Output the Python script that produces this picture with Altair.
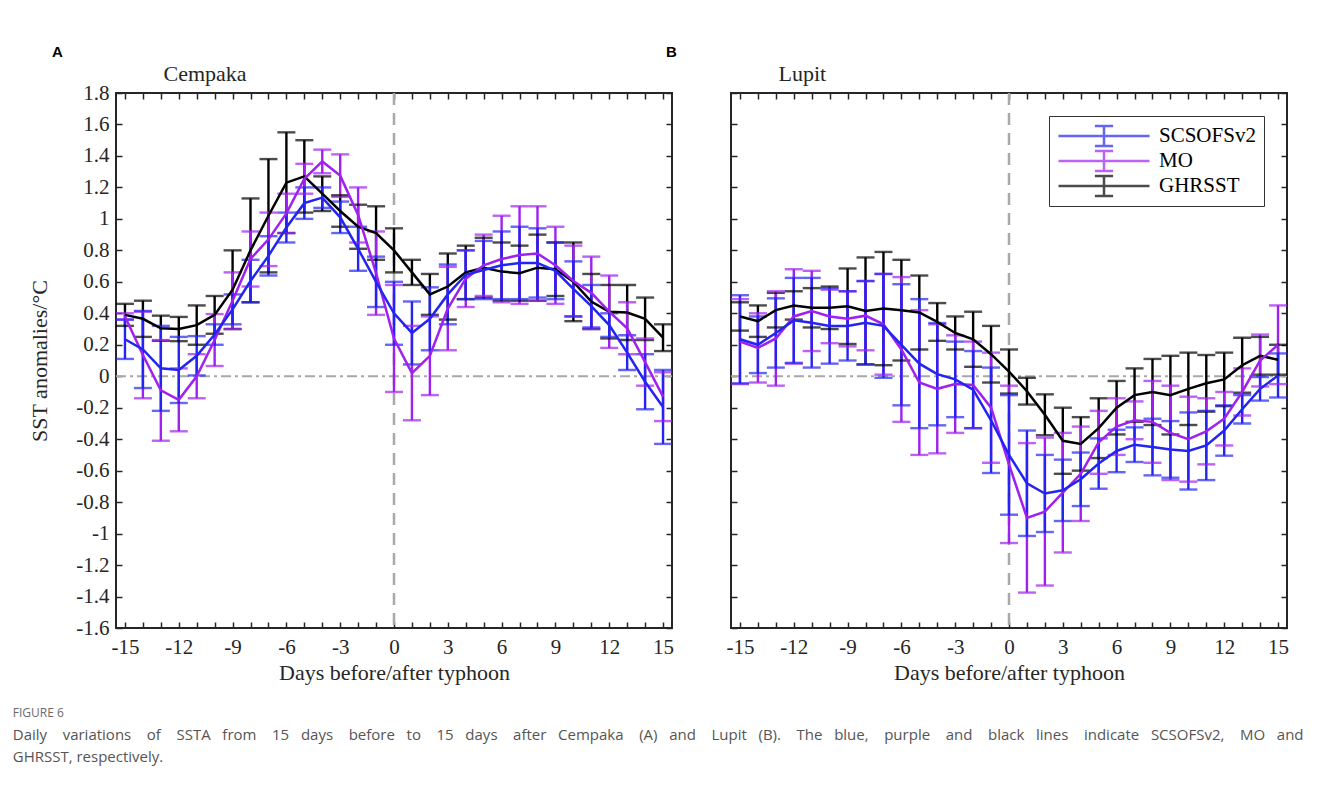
import altair as alt
import pandas as pd

# ---------------- data ----------------
days = list(range(-15, 16))
series_names = ["SCSOFSv2", "MO", "GHRSST"]
series_colors = ["#2424F2", "#A020F0", "#000000"]
y_ticks = [-1.6, -1.4, -1.2, -1.0, -0.8, -0.6, -0.4, -0.2, 0.0, 0.2, 0.4, 0.6, 0.8, 1.0, 1.2, 1.4, 1.6, 1.8]

# Panel A - Cempaka
cem_scs = [0.235, 0.17, 0.05, 0.04, 0.13, 0.265, 0.425, 0.605, 0.765, 0.945, 1.10, 1.135, 1.01, 0.81, 0.60,
           0.40, 0.275, 0.365, 0.52, 0.645, 0.675, 0.705, 0.72, 0.72, 0.67, 0.555, 0.445, 0.325, 0.15, -0.035, -0.195]
cem_scs_err = [0.125, 0.245, 0.27, 0.21, 0.125, 0.065, 0.095, 0.135, 0.125, 0.095, 0.10, 0.065, 0.10, 0.14, 0.16,
               0.20, 0.20, 0.20, 0.19, 0.155, 0.185, 0.215, 0.23, 0.22, 0.18, 0.175, 0.135, 0.075, 0.11, 0.175, 0.235]
cem_mo = [0.38, 0.135, -0.09, -0.15, 0.0, 0.23, 0.48, 0.745, 0.87, 1.035, 1.255, 1.365, 1.275, 1.025, 0.655,
          0.24, 0.02, 0.13, 0.43, 0.62, 0.705, 0.745, 0.77, 0.78, 0.705, 0.605, 0.53, 0.41, 0.305, 0.09, -0.13]
cem_mo_err = [0.02, 0.275, 0.32, 0.2, 0.14, 0.165, 0.18, 0.175, 0.17, 0.125, 0.095, 0.075, 0.135, 0.175, 0.265,
              0.34, 0.30, 0.25, 0.265, 0.18, 0.195, 0.275, 0.31, 0.30, 0.245, 0.225, 0.23, 0.23, 0.165, 0.15, 0.155]
cem_gh = [0.39, 0.365, 0.305, 0.30, 0.325, 0.39, 0.55, 0.80, 1.02, 1.23, 1.27, 1.16, 1.05, 0.95, 0.91,
          0.80, 0.66, 0.52, 0.57, 0.66, 0.69, 0.665, 0.655, 0.69, 0.68, 0.60, 0.475, 0.41, 0.405, 0.365, 0.245]
cem_gh_err = [0.07, 0.115, 0.08, 0.077, 0.125, 0.12, 0.25, 0.33, 0.36, 0.32, 0.23, 0.11, 0.10, 0.14, 0.17,
              0.14, 0.08, 0.13, 0.21, 0.17, 0.19, 0.185, 0.175, 0.21, 0.17, 0.25, 0.175, 0.17, 0.175, 0.135, 0.085]

# Panel B - Lupit
lup_scs = [0.235, 0.20, 0.275, 0.355, 0.34, 0.32, 0.32, 0.34, 0.32, 0.20, 0.08, 0.013, -0.02, -0.085, -0.28,
           -0.50, -0.68, -0.745, -0.725, -0.655, -0.555, -0.475, -0.435, -0.45, -0.465, -0.475, -0.44, -0.345, -0.21, -0.08, 0.005]
lup_scs_err = [0.28, 0.18, 0.22, 0.27, 0.285, 0.24, 0.22, 0.265, 0.33, 0.385, 0.41, 0.325, 0.24, 0.245, 0.335,
               0.38, 0.335, 0.245, 0.195, 0.17, 0.16, 0.135, 0.11, 0.18, 0.18, 0.245, 0.22, 0.16, 0.09, 0.075, 0.14]
lup_mo = [0.22, 0.18, 0.24, 0.38, 0.415, 0.38, 0.365, 0.385, 0.33, 0.17, -0.04, -0.08, -0.05, -0.055, -0.20,
          -0.56, -0.90, -0.86, -0.74, -0.62, -0.42, -0.32, -0.28, -0.29, -0.36, -0.40, -0.35, -0.27, -0.10, 0.10, 0.20]
lup_mo_err = [0.27, 0.22, 0.30, 0.30, 0.255, 0.17, 0.175, 0.22, 0.32, 0.46, 0.46, 0.41, 0.31, 0.275, 0.35,
              0.50, 0.475, 0.47, 0.38, 0.30, 0.20, 0.18, 0.12, 0.26, 0.30, 0.27, 0.21, 0.17, 0.15, 0.165, 0.25]
lup_gh = [0.38, 0.35, 0.42, 0.45, 0.435, 0.435, 0.445, 0.415, 0.43, 0.42, 0.405, 0.345, 0.275, 0.235, 0.14,
          0.03, -0.095, -0.245, -0.41, -0.43, -0.33, -0.20, -0.12, -0.10, -0.12, -0.08, -0.045, -0.02, 0.07, 0.13, 0.105]
lup_gh_err = [0.09, 0.10, 0.11, 0.09, 0.125, 0.135, 0.24, 0.34, 0.36, 0.32, 0.235, 0.12, 0.105, 0.175, 0.18,
              0.14, 0.085, 0.13, 0.21, 0.17, 0.19, 0.17, 0.17, 0.21, 0.25, 0.23, 0.18, 0.17, 0.175, 0.12, 0.095]

caption_words1 = ("Daily variations of SSTA from 15 days before to 15 days after Cempaka (A) and Lupit (B). "
                  "The blue, purple and black lines indicate SCSOFSv2, MO and").split(" ")
caption_line2 = "GHRSST, respectively."

# justified first caption line: widen the word gaps with non-breaking spaces
NB = "\u00a0"
caption_line1 = caption_words1[0]
for i, w in enumerate(caption_words1[1:]):
    caption_line1 += (NB * 4 if (i % 2 == 0 or i % 9 == 1) else NB * 3) + w

# ---------------- styling ----------------
SERIF = "Liberation Serif"
AXC = "#262626"
W, H = 556, 535


def make_df(scs, scs_e, mo, mo_e, gh, gh_e):
    rows = []
    for name, m, e in [("GHRSST", gh, gh_e), ("MO", mo, mo_e), ("SCSOFSv2", scs, scs_e)]:
        for d, mv, ev in zip(days, m, e):
            rows.append({"day": d, "series": name, "mean": mv, "lo": mv - ev, "hi": mv + ev})
    return pd.DataFrame(rows)


xscale = alt.Scale(domain=[-15.5, 15.5], nice=False, zero=False)
yscale = alt.Scale(domain=[-1.6, 1.8], nice=False, zero=False)
cscale = alt.Scale(domain=series_names, range=series_colors)


def mk_axis(orient, labels, title=None, **extra):
    horiz = orient in ("top", "bottom")
    kw = dict(orient=orient, offset=-6, tickSize=6, tickWidth=1.5, tickColor=AXC, domain=False, grid=False,
              labels=labels, labelFont=SERIF, labelFontSize=21, labelColor=AXC, titleFont=SERIF,
              titleFontSize=22, titleFontWeight="normal", titleColor=AXC, labelOverlap=False, labelFlush=False,
              values=days if horiz else y_ticks, title=title)
    if horiz:
        kw["labelExpr"] = "datum.value % 3 == 0 ? '' + datum.value : ''"
        kw["labelPadding"] = 8
    else:
        kw["labelExpr"] = "'' + datum.value"
        kw["labelPadding"] = 7
    kw.update(extra)
    return alt.Axis(**kw)


def panel(df, name, letter, letter_dx, first, legend):
    left_axis = mk_axis("left", first, "SST anomalies/°C" if first else None, titlePadding=24)
    bottom_axis = mk_axis("bottom", True, "Days before/after typhoon", titlePadding=5)
    top_axis = mk_axis("top", False, name, titleAnchor="start", titleAlign="left", titleX=47, titleY=-19,
                       titleBaseline="alphabetic", titleAngle=0)
    right_axis = mk_axis("right", False, None)

    ref = pd.DataFrame({"v": [0]})
    zero = alt.Chart(ref).mark_rule(color="#a8a8a8", strokeWidth=2, strokeDash=[10, 4, 3, 4]).encode(
        y=alt.Y("v:Q", scale=yscale, axis=left_axis))
    vline = alt.Chart(ref).mark_rule(color="#a8a8a8", strokeWidth=2.5, strokeDash=[12, 8]).encode(
        x=alt.X("v:Q", scale=xscale, axis=bottom_axis))

    base = alt.Chart(df)
    col = alt.Color("series:N", scale=cscale, legend=legend)
    bars = base.mark_rule(strokeWidth=2.4).encode(
        x=alt.X("day:Q", scale=xscale, axis=top_axis),
        y=alt.Y("lo:Q", scale=yscale, axis=right_axis),
        y2="hi:Q",
        color=col)
    cap_lo = base.mark_tick(orient="horizontal", size=18, thickness=2.4).encode(
        x=alt.X("day:Q", scale=xscale, axis=None),
        y=alt.Y("lo:Q", scale=yscale, axis=None),
        color=col)
    cap_hi = base.mark_tick(orient="horizontal", size=18, thickness=2.4).encode(
        x=alt.X("day:Q", scale=xscale, axis=None),
        y=alt.Y("hi:Q", scale=yscale, axis=None),
        color=col)
    line = base.mark_line(strokeWidth=2.5).encode(
        x=alt.X("day:Q", scale=xscale, axis=None),
        y=alt.Y("mean:Q", scale=yscale, axis=None),
        color=col)

    return alt.layer(zero, vline, bars, cap_lo, cap_hi, line).properties(
        width=W, height=H,
        title=alt.TitleParams(letter, anchor="start", frame="group", dx=letter_dx, offset=2,
                              font="Liberation Sans", fontWeight="bold", fontSize=15, color="#000000"),
    ).resolve_axis(x="independent", y="independent")


legend_b = alt.Legend(
    orient="none", legendX=318, legendY=23, title=None,
    symbolType="M-1,0H1M0,-0.22V0.22M-0.2,-0.22H0.2M-0.2,0.22H0.2",
    symbolSize=8281, symbolStrokeWidth=2.5, symbolFillColor="transparent",
    clipHeight=24, rowPadding=1, padding=8, strokeColor="#333333", fillColor="#ffffff",
    labelFont=SERIF, labelFontSize=21, labelColor="#000000", labelOffset=8)

df_a = make_df(cem_scs, cem_scs_err, cem_mo, cem_mo_err, cem_gh, cem_gh_err)
df_b = make_df(lup_scs, lup_scs_err, lup_mo, lup_mo_err, lup_gh, lup_gh_err)

pa = panel(df_a, "Cempaka", "A", -64, True, None)
pb = panel(df_b, "Lupit", "B", -65, False, legend_b)

chart = alt.hconcat(pa, pb, spacing=59, bounds="flush").resolve_scale(color="independent").properties(
    title=alt.TitleParams(
        "FIGURE 6", subtitle=[caption_line1, caption_line2], orient="bottom", anchor="start", frame="bounds",
        dx=-15, offset=24, font="Open Sans", fontSize=12, fontWeight="normal", color="#6b6b6b",
        subtitleFont="Open Sans", subtitleFontSize=15, subtitleColor="#555555", subtitleLineHeight=22,
        subtitlePadding=8),
    padding={"left": 4, "top": 36, "right": 5, "bottom": 5},
).configure_view(stroke=AXC, strokeWidth=2)

chart.save("out.html", embed_options={"renderer": "svg", "actions": False})
